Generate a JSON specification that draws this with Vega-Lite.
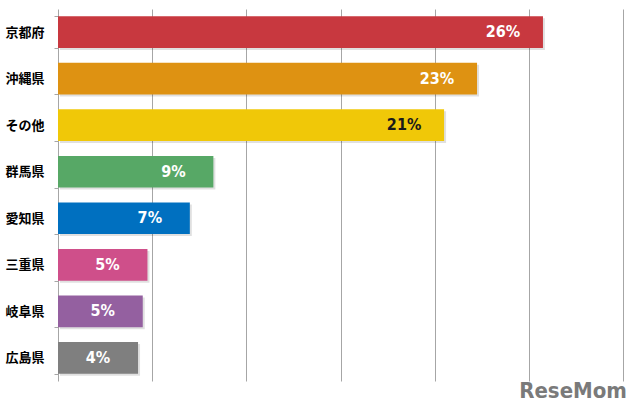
{
  "$schema": "https://vega.github.io/schema/vega-lite/v6.json",
  "width": 565,
  "height": 372,
  "autosize": {"type": "none"},
  "padding": {"left": 58, "top": 9, "right": 17, "bottom": 35},
  "background": "white",
  "config": {"view": {"stroke": null}},
  "title": {
    "text": "ReseMom",
    "orient": "bottom",
    "anchor": "end",
    "offset": 0,
    "dx": 4,
    "color": "#7A7A7A",
    "font": "DejaVu Sans Condensed, Liberation Sans Narrow, Liberation Sans",
    "fontSize": 22,
    "fontWeight": "bold"
  },
  "data": {
    "values": [
      {"pref": "京都府", "count": 103, "label": "26%"},
      {"pref": "沖縄県", "count": 89, "label": "23%"},
      {"pref": "その他", "count": 82, "label": "21%"},
      {"pref": "群馬県", "count": 33, "label": "9%"},
      {"pref": "愛知県", "count": 28, "label": "7%"},
      {"pref": "三重県", "count": 19, "label": "5%"},
      {"pref": "岐阜県", "count": 18, "label": "5%"},
      {"pref": "広島県", "count": 17, "label": "4%"}
    ]
  },
  "encoding": {
    "y": {
      "field": "pref",
      "type": "nominal",
      "sort": null,
      "scale": {"paddingInner": 0.32, "paddingOuter": 0.155},
      "axis": {
        "title": null,
        "domainColor": "#A6A6A6",
        "tickColor": "#A6A6A6",
        "tickSize": 4,
        "tickBand": "extent",
        "labelFont": "Noto Sans CJK JP",
        "labelFontWeight": "bold",
        "labelFontSize": 13,
        "labelColor": "#000000",
        "labelPadding": 10
      }
    }
  },
  "layer": [
    {
      "mark": {"type": "bar", "color": "#000000", "opacity": 0.12, "xOffset": 2, "x2Offset": 2, "yOffset": 2, "y2Offset": 2},
      "encoding": {
        "x": {
          "field": "count",
          "type": "quantitative",
          "scale": {"domain": [0, 120], "nice": false},
          "axis": {
            "title": null,
            "labels": false,
            "ticks": false,
            "domain": false,
            "grid": true,
            "gridColor": "#A6A6A6",
            "values": [20, 40, 60, 80, 100, 120]
          }
        }
      }
    },
    {
      "mark": {"type": "bar"},
      "encoding": {
        "x": {"field": "count", "type": "quantitative"},
        "color": {
          "field": "pref",
          "type": "nominal",
          "legend": null,
          "scale": {
            "domain": ["京都府", "沖縄県", "その他", "群馬県", "愛知県", "三重県", "岐阜県", "広島県"],
            "range": ["#C8383F", "#DE9212", "#F0C808", "#57A866", "#0070C0", "#CF4F8A", "#9460A0", "#7F7F7F"]
          }
        }
      }
    },
    {
      "mark": {
        "type": "text",
        "dx": -40,
        "align": "center",
        "baseline": "middle",
        "font": "DejaVu Sans Condensed, Liberation Sans Narrow, Liberation Sans",
        "fontSize": 16,
        "fontWeight": "bold"
      },
      "encoding": {
        "x": {"field": "count", "type": "quantitative"},
        "text": {"field": "label"},
        "color": {
          "condition": {"test": "datum.pref === 'その他'", "value": "#1A1A1A"},
          "value": "#FFFFFF"
        }
      }
    }
  ]
}
